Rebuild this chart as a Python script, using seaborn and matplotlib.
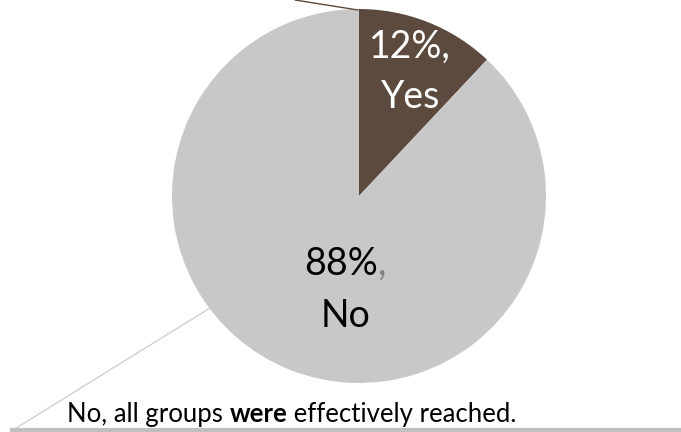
import matplotlib
matplotlib.use("Agg")
import matplotlib.pyplot as plt
import seaborn as sns

labels = ["Yes", "No"]
values = [12, 88]
colors = ["#5d4a3e", "#c8c8c8"]
caption_parts = ["No, all groups ", "were", " effectively reached."]

sns.set_theme(style="white")
plt.rcParams['font.family'] = ['Lato', 'DejaVu Sans']

W, H = 681, 432
fig = plt.figure(figsize=(W / 100, H / 100), dpi=100)
ax = fig.add_axes([0, 0, 1, 1])

cx, cy, r = 359, H - 196, 187
ax.pie(values, colors=colors, startangle=90, counterclock=False,
       center=(cx, cy), radius=r, frame=True,
       wedgeprops=dict(linewidth=0))
ax.set_xlim(0, W)
ax.set_ylim(0, H)
ax.set_aspect("equal")
ax.axis("off")
fig.canvas.draw()

def width(t):
    return t.get_window_extent(renderer=fig.canvas.get_renderer()).width

# data labels: Yes slice
ax.text(410, H - 58, f"{values[0]}%,", color="white", fontsize=27, ha="center", va="baseline")
ax.text(411, H - 108, labels[0], color="white", fontsize=27, ha="center", va="baseline")

# data labels: No slice (comma in grey)
t = ax.text(0, 0, f"{values[1]}%", fontsize=27, alpha=0)
tc = ax.text(0, 0, ",", fontsize=27, alpha=0)
fig.canvas.draw()
w1, w2 = width(t), width(tc)
x0 = 345 - (w1 + w2) / 2
ax.text(x0, H - 275, f"{values[1]}%", color="black", fontsize=27, ha="left", va="baseline")
ax.text(x0 + w1, H - 275, ",", color="#7f7f7f", fontsize=27, ha="left", va="baseline")
ax.text(346, H - 327, labels[1], color="black", fontsize=27, ha="center", va="baseline")

# leader lines
ax.plot([295, 358], [H - 0, H - 10], color="#5d4a3e", lw=1)
ax.plot([210, 13], [H - 308, H - 430], color="#d0d0d0", lw=1)
ax.plot([10, W], [H - 430, H - 430], color="#bfbfbf", lw=3, solid_capstyle="butt")

# caption with bold word
fs = 18.5
x = 67
for i, part in enumerate(caption_parts):
    tt = ax.text(x, H - 422, part, fontsize=fs, ha="left", va="baseline", color="black",
                 fontweight="bold" if i == 1 else "normal")
    fig.canvas.draw()
    x += width(tt)

fig.savefig("out.png", dpi=100)
